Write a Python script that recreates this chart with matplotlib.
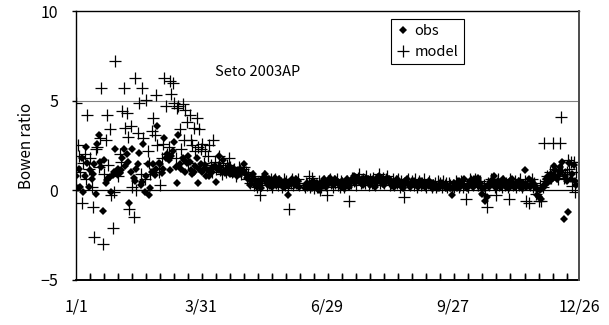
import numpy as np
import matplotlib
matplotlib.use('Agg')
import matplotlib.pyplot as plt

plt.rcParams['font.family'] = ['Noto Sans CJK JP', 'DejaVu Sans']

nan = np.nan

# daily Bowen ratio, day of year 1..358
obs = [
    0.8, 0.1, 1.2, 0.15, 1.8, -0.1, 0.8, 2.4, 1.5, 0.15,
    1.1, 0.6, 0.9, 1.45, -0.2, 2.6, 3.1, 1.6, 1.3, -1.15,
    1.7, 0.4, 0.55, 0.7, 0.75, -0.1, 0.85, 1.0, 2.3, 0.9,
    1.2, 0.95, 1.1, 1.8, 2.3, 1.35, 2.0, 1.6, -0.7, 1.0,
    2.3, 0.7, 0.5, 1.2, 1.45, 2.1, 0.3, 0.45, 2.6, -0.1,
    0.8, 1.45, -0.3, 0.1, 1.0, 1.45, 0.85, 1.2, 3.6, 1.5,
    1.45, 0.95, 1.2, 2.9, 1.8, 2.0, 1.7, 1.1, 1.9, 2.2,
    2.7, 1.3, 0.4, 3.1, 1.45, 1.2, 1.8, 1.7, 1.0, 1.5,
    1.9, 1.6, 1.1, 0.9, 1.0, 1.35, 1.8, 0.4, 1.2, 1.45,
    1.0, 1.2, 1.4, 0.8, 1.1, 0.8, 1.2, 1.0, 1.3, 1.35,
    0.45, 1.2, 1.9, 1.3, 1.0, 1.7, 0.95, 1.1, 1.0, 1.35,
    0.9, 1.1, 0.9, 1.2, 1.0, 0.8, 1.1, 0.9, 1.15, 1.0,
    1.45, 0.9, 0.7, 0.8, 0.3, 0.5, 0.9, 0.6, 0.3, 0.2,
    0.5, 0.4, 0.1, 0.6, 0.7, 0.9, 0.4, 0.3, 0.6, 0.5,
    0.2, 0.4, 0.7, 0.3, 0.5, 0.6, 0.3, 0.4, 0.2, 0.5,
    0.4, -0.3, 0.3, 0.5, 0.6, 0.4, 0.3, 0.6, 0.5, 0.2,
    nan, nan, nan, 0.1, 0.3, 0.4, 0.2, 0.3, 0.1, 0.5,
    0.3, 0.2, 0.4, 0.0, 0.1, 0.3, 0.5, 0.6, 0.2, 0.3,
    0.4, 0.7, 0.5, 0.3, 0.4, 0.6, 0.5, 0.4, 0.3, 0.2,
    0.5, 0.1, 0.4, 0.6, 0.3, 0.2, 0.5, 0.6, 0.8, 0.4,
    0.6, 0.7, 0.5, 0.4, 0.6, 0.3, 0.5, 0.7, 0.6, 0.4,
    0.3, 0.5, 0.6, 0.2, 0.4, 0.7, 0.8, 0.5, 0.4, 0.6,
    0.3, 0.5, 0.7, 0.6, 0.4, 0.5, 0.3, 0.2, 0.4, 0.6,
    0.5, 0.3, 0.4, 0.1, 0.3, 0.5, 0.6, 0.4, 0.2, 0.3,
    0.4, 0.5, 0.3, 0.4, 0.2, 0.3, 0.5, 0.4, 0.3, 0.2,
    0.4, 0.3, 0.5, 0.2, 0.3, 0.4, 0.2, 0.3, 0.1, 0.3,
    0.2, 0.4, 0.3, 0.2, 0.1, 0.3, 0.2, 0.1, -0.3, 0.2,
    0.4, 0.3, 0.1, 0.5, 0.2, 0.4, 0.3, 0.6, 0.2, 0.1,
    0.3, 0.5, 0.4, 0.2, 0.6, 0.3, 0.5, 0.7, 0.4, 0.2,
    -0.2, 0.1, -0.6, -0.4, 0.3, 0.2, 0.5, 0.4, 0.8, 0.3,
    0.1, 0.5, 0.4, 0.2, 0.3, 0.6, 0.4, 0.2, 0.3, 0.1,
    0.5, 0.6, 0.3, 0.2, 0.4, 0.3, 0.5, 0.2, 0.1, 0.4,
    1.1, 0.2, 0.3, 0.6, 0.2, 0.5, 0.4, 0.3, 0.1, -0.3,
    -0.4, 0.0, -0.5, 0.1, 0.3, 0.6, 0.4, 0.8, 0.5, 0.9,
    0.7, 1.35, 1.1, 0.6, 0.8, 1.3, 1.0, 1.55, -1.6, 0.8,
    0.5, -1.2, 1.5, 0.6, 0.9, 1.4, 0.5, 0.3,
]

model = [
    4.9, 2.5, 1.9, 1.0, -0.7, 1.5, 2.0, 0.6, 4.2, 1.2,
    1.8, 0.2, -0.95, -2.6, 2.3, 2.4, 1.3, 2.9, 5.7, -3.0,
    0.9, 2.8, 4.2, 1.4, 3.4, -0.3, -2.1, -0.1, 7.2, 1.0,
    0.8, 2.0, 1.6, 4.4, 5.7, 3.5, 4.3, 3.0, -1.05, 3.6,
    0.2, -1.5, 6.3, 0.0, 3.2, 4.9, 0.9, 5.7, 2.9, 0.6,
    5.05, 2.2, 1.5, 0.9, 3.3, 4.05, 3.1, 5.3, 2.5, 1.0,
    0.3, 1.8, 2.6, 6.3, 4.7, 2.0, 2.4, 6.1, 5.4, 6.0,
    4.9, 1.8, 4.6, 4.7, 3.4, 2.3, 4.8, 2.8, 4.5, 3.8,
    1.5, 4.2, 2.8, 2.5, 3.5, 2.2, 4.05, 2.4, 3.4, 2.3,
    2.6, 1.5, 2.2, 1.2, 1.9, 2.5, 1.4, 1.0, 2.8, 1.6,
    1.2, 1.3, 1.9, 1.1, 0.9, 1.5, 1.2, 1.0, 1.4, 1.8,
    1.3, 1.0, 1.1, 1.2, 0.8, 1.0, 1.3, 1.1, 0.9, 1.2,
    1.3, 1.0, 0.6, 0.9, 0.4, 0.6, 0.8, 0.3, 0.5, 0.2,
    0.4, -0.3, 0.3, 0.6, 0.8, 0.7, 0.3, 0.5, 0.4, 0.6,
    0.2, 0.5, 0.6, 0.4, 0.3, 0.5, 0.4, 0.2, 0.6, 0.3,
    0.5, 0.1, -1.05, 0.4, 0.6, 0.3, 0.5, 0.4, 0.6, 0.3,
    nan, nan, nan, 0.2, 0.4, 0.3, 0.8, 0.2, 0.7, 0.4,
    0.1, 0.3, 0.2, 0.5, 0.0, 0.2, 0.4, 0.5, 0.3, -0.3,
    0.5, 0.6, 0.4, 0.2, 0.5, 0.4, 0.6, 0.3, 0.2, 0.5,
    0.4, 0.2, 0.3, 0.5, 0.4, -0.6, 0.4, 0.7, 0.5, 0.6,
    0.3, 0.7, 0.9, 0.4, 0.5, 0.6, 0.4, 0.8, 0.5, 0.3,
    0.6, 0.4, 0.7, 0.3, 0.5, 0.6, 0.9, 0.4, 0.5, 0.7,
    0.4, 0.6, 0.8, 0.5, 0.3, 0.4, 0.6, 0.3, 0.5, 0.4,
    0.6, 0.2, 0.5, 0.3, -0.4, 0.4, 0.5, 0.6, 0.3, 0.4,
    0.5, 0.3, 0.6, 0.2, 0.4, 0.5, 0.3, 0.4, 0.6, 0.3,
    0.2, 0.4, 0.5, 0.3, 0.2, 0.3, 0.4, 0.2, 0.5, 0.3,
    0.4, 0.2, 0.5, 0.3, 0.4, 0.2, 0.4, 0.3, 0.1, 0.3,
    0.2, 0.5, 0.4, 0.2, 0.3, 0.5, 0.2, 0.4, -0.5, 0.3,
    0.2, 0.6, 0.5, 0.3, 0.4, 0.6, 0.4, 0.3, 0.5, 0.2,
    0.0, 0.3, -0.3, -0.95, 0.4, 0.3, 0.6, 0.5, 0.4, 0.2,
    -0.25, 0.6, 0.3, 0.4, 0.2, 0.5, 0.3, 0.4, 0.2, -0.5,
    0.6, 0.4, 0.3, 0.5, 0.2, 0.4, 0.3, 0.6, 0.2, 0.3,
    0.5, -0.6, 0.4, -0.7, 0.3, 0.6, 0.2, 0.4, -0.2, 0.0,
    -0.6, 0.3, -0.6, 0.2, 2.65, 0.5, 0.8, 0.6, 1.0, 0.7,
    2.65, 0.9, 1.2, 0.8, 0.6, 2.65, 4.1, 1.1, 0.7, 0.9,
    1.0, 1.7, 1.2, 1.55, 0.25, 1.6, -0.1, 1.0,
]

days = np.arange(1, len(obs) + 1)

tick_days = [1, 90, 180, 270, 360]
tick_labels = ['1/1', '3/31', '6/29', '9/27', '12/26']
minor_days = list(range(11, 360, 10))

fig = plt.figure(figsize=(6.09, 3.25), dpi=100)
ax = fig.add_axes([0.125, 0.14, 0.826, 0.825])

ax.axhline(5, color='#808080', lw=0.8, zorder=1)
ax.axhline(0, color='black', lw=0.9, zorder=1)

ax.plot(days, model, linestyle='none', marker='+', ms=9, mew=0.9,
        color='black', label='model', zorder=3)
ax.plot(days, obs, linestyle='none', marker='D', ms=4.2, mew=0,
        color='black', label='obs', zorder=4)

ax.set_xlim(1, 360)
ax.set_ylim(-5, 10)
ax.set_yticks([-5, 0, 5, 10])
ax.set_yticklabels(['\u22125', '0', '5', '10'])
ax.set_xticks(tick_days)
ax.set_xticklabels(tick_labels)
ax.set_xticks(minor_days, minor=True)

ax.tick_params(axis='x', which='major', length=0, pad=14, labelsize=11.5)
ax.tick_params(axis='x', which='minor', direction='in', length=5,
               width=1.0, color='black')
ax.tick_params(axis='y', which='major', direction='out', length=3,
               width=1.0, pad=10, labelsize=11.5)

ax.spines['left'].set_color('black')
ax.spines['left'].set_linewidth(1.0)
ax.spines['top'].set_color('black')
ax.spines['top'].set_linewidth(1.0)
ax.spines['bottom'].set_color('black')
ax.spines['bottom'].set_linewidth(1.2)
ax.spines['right'].set_color('#505050')
ax.spines['right'].set_linewidth(1.4)

# frame edges and inward day ticks drawn explicitly as well
ax.axhline(-5, color='black', lw=1.2, clip_on=False, zorder=5)
ax.axvline(360, color='#505050', lw=1.4, clip_on=False, zorder=5)
ax.vlines(minor_days, -5, -4.72, color='black', lw=1.0, zorder=5)

ax.set_ylabel('Bowen ratio', fontsize=11, labelpad=4)

ax.text(0.36, 0.775, 'Seto 2003AP', transform=ax.transAxes,
        ha='center', va='center', fontsize=10.5)

handles, labels = ax.get_legend_handles_labels()
leg = ax.legend(handles[::-1], labels[::-1], loc='upper left',
                bbox_to_anchor=(0.625, 0.972), frameon=True, fancybox=False,
                edgecolor='black', framealpha=1, fontsize=10.5,
                handlelength=1.0, handletextpad=0.3, borderpad=0.35,
                labelspacing=0.5, borderaxespad=0)
leg.get_frame().set_linewidth(0.8)

fig.savefig('out.png', dpi=100)
